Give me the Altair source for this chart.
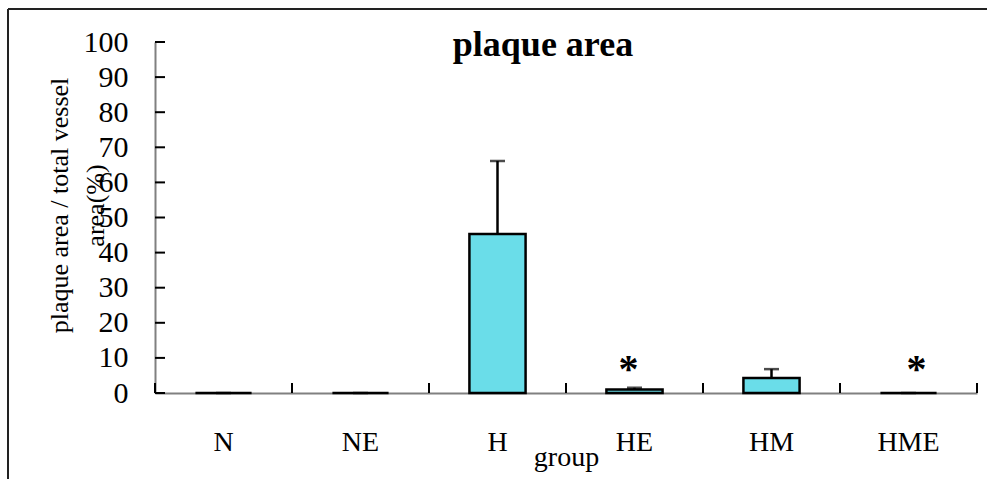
import altair as alt
import pandas as pd

# ---- data ----
groups = ["N", "NE", "H", "HE", "HM", "HME"]
means = [0.0, 0.0, 45.3, 1.0, 4.3, 0.0]
errors = [0.0, 0.0, 20.8, 0.5, 2.5, 0.0]
sig_groups = ["HE", "HME"]
sig_y = [3.0, 3.0]
y_ticks = [0, 10, 20, 30, 40, 50, 60, 70, 80, 90, 100]
chart_title = "plaque area"

W, H = 822, 351
FONT = "Liberation Serif"

df = pd.DataFrame({"group": groups, "mean": means, "err": errors})
df["upper"] = df["mean"] + df["err"]
ticks_df = pd.DataFrame({"v": y_ticks})
one = pd.DataFrame({"a": [0]})
title_df = pd.DataFrame({"t": [chart_title]})

x_scale = alt.Scale(domain=groups, paddingInner=0, paddingOuter=0)
x_axis = alt.Axis(
    title="group", ticks=False, labelAngle=0, labelFont=FONT, labelFontSize=28,
    labelColor="black", labelBaseline="alphabetic", labelPadding=57,
    titleFont=FONT, titleFontSize=28, titleFontWeight="normal", titleColor="black",
    titleBaseline="alphabetic", titleY=72, domainColor="#808080", domainWidth=2,
)
y_scale = alt.Scale(domain=[0, 100], nice=False)
y_axis = alt.Axis(
    title=["plaque area / total vessel", "area(%)"], values=y_ticks, ticks=False,
    tickSize=0, grid=False, labelFont=FONT, labelFontSize=30, labelColor="black",
    labelPadding=27, labelOverlap=False, labelBound=False, labelFlush=False,
    titleFont=FONT, titleFontSize=26, titleFontWeight="normal",
    titleColor="black", titleAngle=-90, titleAlign="center",
    titleBaseline="alphabetic", titleX=-88, titleY=163, titleLineHeight=36,
    domainColor="#808080", domainWidth=2,
)


def X(field="group:N", **kw):
    return alt.X(field, scale=x_scale, axis=x_axis, sort=groups, **kw)


def Y(field):
    return alt.Y(field, scale=y_scale, axis=y_axis)


base = alt.Chart(df)

bars = base.mark_bar(
    fill="#6ADDE9", stroke="black", strokeWidth=2.5,
    width=alt.RelativeBandSize(0.41),
).encode(x=X(), y=Y("mean:Q"))

err_rule = base.mark_rule(color="black", strokeWidth=2.5).encode(
    x=X(), y=Y("mean:Q"), y2="upper:Q"
)
err_cap = base.mark_tick(color="black", size=15, thickness=2.5).encode(
    x=X(), y=Y("upper:Q")
)

# inward ticks
y_tick_marks = alt.Chart(ticks_df).mark_rule(color="black", strokeWidth=2).encode(
    y=Y("v:Q"), x=alt.value(0), x2=alt.value(10)
)
x_tick_left = base.mark_rule(color="black", strokeWidth=2).encode(
    x=X(bandPosition=0), y=alt.value(H - 10), y2=alt.value(H),
)
x_tick_right = base.mark_rule(color="black", strokeWidth=2).encode(
    x=X(bandPosition=1), y=alt.value(H - 10), y2=alt.value(H),
)

sig_df = pd.DataFrame({"group": sig_groups, "y": sig_y, "t": ["*", "*"]})
star1 = alt.Chart(sig_df.iloc[[0]]).mark_text(
    font=FONT, fontSize=40, fontWeight="bold", baseline="alphabetic", dx=-6, color="black"
).encode(x=X(), y=Y("y:Q"), text="t:N")
star2 = alt.Chart(sig_df.iloc[[1]]).mark_text(
    font=FONT, fontSize=40, fontWeight="bold", baseline="alphabetic", dx=8, color="black"
).encode(x=X(), y=Y("y:Q"), text="t:N")

title_mark = alt.Chart(title_df).mark_text(
    font=FONT, fontSize=36, fontWeight="bold", color="black",
    baseline="alphabetic", align="center",
).encode(x=alt.value(388), y=alt.value(14), text="t:N")

# outer frame (cropped box in the reference)
frame_left = alt.Chart(one).mark_rule(color="#222222", strokeWidth=2).encode(
    x=alt.value(-147), y=alt.value(-33), y2=alt.value(H + 86)
)
frame_top = alt.Chart(one).mark_rule(color="#222222", strokeWidth=2).encode(
    x=alt.value(-147), x2=alt.value(W + 10), y=alt.value(-33)
)

chart = alt.layer(
    bars, err_rule, err_cap, y_tick_marks, x_tick_left, x_tick_right,
    star1, star2, title_mark, frame_left, frame_top,
).properties(
    width=W, height=H,
    autosize=alt.AutoSizeParams(type="none"),
    padding={"left": 155, "top": 42, "right": 10, "bottom": 86},
    view=alt.ViewBackground(stroke="transparent", strokeWidth=0),
).configure_view(
    strokeWidth=0, stroke="transparent"
).configure_axis(
    grid=False, labelOverlap=False
).configure(background="white")

chart.save("out.html", embed_options={"renderer": "svg", "actions": False})
